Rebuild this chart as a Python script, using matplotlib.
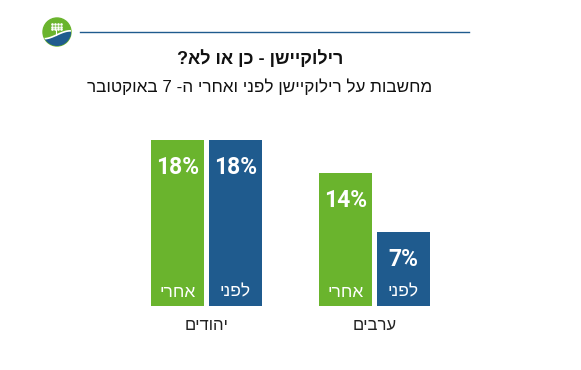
import matplotlib
matplotlib.use("Agg")
import matplotlib.pyplot as plt
import numpy as np
from matplotlib.patches import Circle, Polygon

# ---- data ----
groups = ["יהודים", "ערבים"]
series_names = ["אחרי", "לפני"]
after_vals = [18, 14]
before_vals = [18, 7]
title = "רילוקיישן - כן או לא?"
subtitle = "מחשבות על רילוקיישן לפני ואחרי ה- 7 באוקטובר"

GREEN = "#6ab42d"
BLUE = "#1f5b8e"
HEB = ["Liberation Sans", "DejaVu Sans"]

def rtl(s):
    return s[::-1]

W, H = 581, 370
fig = plt.figure(figsize=(W / 100, H / 100), dpi=100)

def px_axes(x0, y0, x1, y1):
    return fig.add_axes([x0 / W, 1 - y1 / H, (x1 - x0) / W, (y1 - y0) / H])

# overlay axes in pixel coordinates for header
hdr = fig.add_axes([0, 0, 1, 1])
hdr.set_xlim(0, W)
hdr.set_ylim(H, 0)
hdr.axis("off")

# logo
cx, cy, r = 57, 32, 14
circ = Circle((cx, cy), r, color=GREEN, zorder=2)
hdr.add_patch(circ)
xs = np.linspace(cx - r, cx + r, 50)
wave = cy + 4 - 4 * np.sin((xs - cx) / r * 1.6)
poly = Polygon(np.vstack([np.column_stack([xs, wave]), [[cx + r, cy + r + 2], [cx - r, cy + r + 2]]]),
               closed=True, color=BLUE, zorder=3)
hdr.add_patch(poly)
poly.set_clip_path(circ)
wl, = hdr.plot(xs, wave - 1.2, color="white", lw=1.2, zorder=4)
wl.set_clip_path(circ)
# tiny tree dots
for dx in [-4.5, -1.5, 1.5, 4.5]:
    for dy in [-8, -5.5, -3]:
        hdr.plot(cx - 1 + dx, cy + dy, "o", ms=0.9, color="white", zorder=5)
hdr.plot([cx - 1, cx - 1], [cy - 2, cy + 3], color="white", lw=0.8, zorder=5)

hdr.plot([80, 469], [32, 32], color=BLUE, lw=1, zorder=2)

hdr.text(260, 59, rtl(title), ha="center", va="center", fontsize=13,
         fontweight="bold", family=HEB, color="#111111")
hdr.text(260, 87, rtl(subtitle), ha="center", va="center", fontsize=12.3,
         family=HEB, color="#111111")

# ---- bars ----
base = -1.85
scale = 8.36  # px per unit
y_bottom_px = 306
y_top_px = 130
ytop = (y_bottom_px - y_top_px) / scale + base

gx0, gx1 = 206.5, 374.5
unit = gx1 - gx0
xl = (130 - gx0) / unit
xr = (450 - gx0) / unit
ax = px_axes(130, y_top_px, 450, y_bottom_px)
ax.set_xlim(xl, xr)
ax.set_ylim(base, ytop)
ax.axis("off")

x = np.arange(len(groups))
off = 29 / unit
bw = 53 / unit
for vals, dx, col, name in [(after_vals, -off, GREEN, series_names[0]),
                            (before_vals, off, BLUE, series_names[1])]:
    heights = [v - base for v in vals]
    bars = ax.bar(x + dx, heights, bw, bottom=base, color=col)
    for xi, v in zip(x + dx, vals):
        ax.annotate(f"{v}%", (xi, v), xytext=(0, -19.5), textcoords="offset points",
                    ha="center", va="center", fontsize=16.5, fontweight="bold",
                    family=["Roboto", "DejaVu Sans"], color="white")
        ax.annotate(rtl(name), (xi, base), xytext=(0, 10), textcoords="offset points",
                    ha="center", va="center", fontsize=12.5, family=HEB, color="white")

for xi, g in zip(x, groups):
    ax.annotate(rtl(g), (xi, base), xytext=(0, -14), textcoords="offset points",
                ha="center", va="center", fontsize=12, family=HEB, color="#222222",
                annotation_clip=False)

fig.savefig("out.png", dpi=100)
